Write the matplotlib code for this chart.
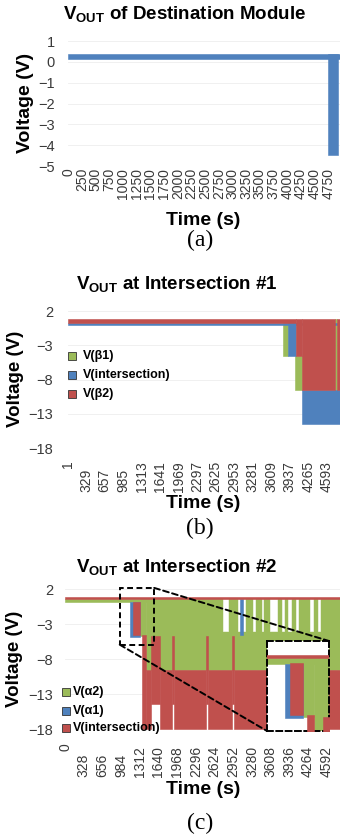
import matplotlib
matplotlib.use("Agg")
import matplotlib.pyplot as plt
from matplotlib.patches import Rectangle, ConnectionPatch

plt.rcParams["font.family"] = ["Liberation Sans", "DejaVu Sans"]
plt.rcParams["mathtext.fontset"] = "custom"
plt.rcParams["mathtext.rm"] = "Liberation Sans"
plt.rcParams["mathtext.bf"] = "Liberation Sans:bold"

GREEN = "#9BBB59"
BLUE = "#4F81BD"
RED = "#C0504D"
TICK_COLOR = "#3a3a3a"

# ---- (a) V_OUT of destination module: bands as (start, end, low, high)
dest_start = [0, 4750]
dest_end = [4964, 4933]
dest_low = [0.12, -4.48]
dest_high = [0.38, 0.38]
ticks_a = list(range(0, 5000, 250))

# ---- (b) intersection #1
beta1_start = [3813, 4031, 4740]
beta1_end = [3902, 4161, 4770]
beta1_low = [-4.6, -9.5, -9.5]
beta1_high = [0.3, -4.6, 0.8]

inter1_start = [1, 3902, 4150]
inter1_end = [4829, 4044, 4829]
inter1_low = [0.0, -4.6, -14.4]
inter1_high = [0.3, 0.3, -9.5]

beta2_start = [1, 4049, 4161, 4770]
beta2_end = [4049, 4161, 4740, 4829]
beta2_low = [0.3, -4.6, -9.5, -9.5]
beta2_high = [0.8, 0.8, 0.8, 0.8]

ticks_b = list(range(1, 4700, 328))

# ---- (c) intersection #2
alpha2_start = [0, 1316, 1421]
alpha2_end = [4825, 1421, 4825]
alpha2_low = [0.14, -4.6, -9.5]
alpha2_high = [0.65, 0.65, 0.65]
# windows where V(alpha2) only sits in its lower level
alpha2_gap_start = [2777, 3035, 3298, 3451, 3596, 3802, 3918, 4053, 4298, 4444]
alpha2_gap_end = [2854, 3158, 3333, 3479, 3714, 3842, 3960, 4093, 4356, 4474]
alpha2_gap_floor = -4.0

alpha1_start = [1140, 3070]
alpha1_end = [1316, 3128]
alpha1_low = [-4.77, -4.5]
alpha1_high = [0.14, 0.65]

inter2_start = [0, 1188, 1346, 1421, 1504, 1667, 1872, 1916, 2468, 2512, 2925, 2968]
inter2_end = [4825, 1316, 1421, 1504, 1667, 1872, 1916, 2468, 2512, 2925, 2968, 4825]
inter2_low = [0.65, -4.5, -18, -18, -14.3, -18, -14.3, -18, -14.3, -18, -14.3, -18]
inter2_high = [0.95, 0.2, -4.5, -9.5, -4.6, -9.5, -4.6, -9.5, -4.6, -9.5, -4.6, -9.5]

ticks_c = list(range(0, 4700, 328))
zoom_t = (960, 1565)
zoom_v = (-5.9, 2.2)

W, H = 340, 835


def px_rect(left, top, right, bottom):
    return [left / W, 1 - bottom / H, (right - left) / W, (bottom - top) / H]


def fx(x):
    return x / W


def fy(y):
    return 1 - y / H


def draw_bands(ax, starts, ends, lows, highs, color, zorder=2):
    for s, e, lo, hi in zip(starts, ends, lows, highs):
        ax.fill_between([s, e], [lo, lo], [hi, hi], color=color,
                        edgecolor=color, linewidth=0.4, zorder=zorder)


def style_axes(ax, yticks, ypad):
    for sp in ax.spines.values():
        sp.set_visible(False)
    ax.set_yticks(yticks)
    ax.tick_params(axis="y", length=0, pad=ypad, labelsize=10.5,
                   labelcolor=TICK_COLOR)
    ax.grid(axis="y", color="#eeeeee", linewidth=0.6)
    ax.set_axisbelow(True)


def bottom_aligned_xticks(ax, ticks, pad_px, first_gap_px, axes_h_px):
    pad_pt = pad_px * 72 / 100
    ax.tick_params(axis="x", length=0, pad=pad_pt)
    ax.set_xticks(ticks, [str(t) for t in ticks], rotation=90, va="bottom",
                  fontsize=10, color=TICK_COLOR)
    first = ax.get_xticklabels()[0]
    first.set_va("top")
    first.set_y((pad_px - first_gap_px) / axes_h_px)


def legend_items(names, colors, x_box, x_text, y_centers, size=8):
    fig = plt.gcf()
    for name, col, yc in zip(names, colors, y_centers):
        fig.add_artist(Rectangle((fx(x_box), fy(yc + size / 2)), size / W,
                                 size / H, facecolor=col, edgecolor="#333333",
                                 linewidth=0.6, transform=fig.transFigure))
        fig.text(fx(x_text), fy(yc), name, fontsize=9, fontweight="bold",
                 ha="left", va="center")


fig = plt.figure(figsize=(3.4, 8.35), dpi=100)

# ================= (a)
ax_a = fig.add_axes(px_rect(68.3, 41, 340, 166))
draw_bands(ax_a, dest_start, dest_end, dest_low, dest_high, BLUE)
ax_a.set_xlim(0, 4964)
ax_a.set_ylim(-5, 1)
style_axes(ax_a, range(-5, 2), 9.5)
ax_a.tick_params(axis="x", length=0, pad=1.5)
ax_a.set_xticks(ticks_a, [str(t) for t in ticks_a], rotation=90, va="top",
                fontsize=10, color=TICK_COLOR)
fig.text(fx(185), fy(15), r"$\mathbf{V}_{\mathbf{OUT}}$ of Destination Module",
         fontsize=13.5, fontweight="bold", ha="center", va="center")
fig.text(fx(25), fy(103), "Voltage (V)", rotation=90, fontsize=14,
         fontweight="bold", ha="center", va="center")
fig.text(fx(203), fy(220), "Time (s)", fontsize=14, fontweight="bold",
         ha="center", va="center")
fig.text(fx(200), fy(240), "(a)", fontsize=17, family="Liberation Serif",
         ha="center", va="center")

# ================= (b)
ax_b = fig.add_axes(px_rect(67.7, 311, 340, 448.3))
draw_bands(ax_b, beta1_start, beta1_end, beta1_low, beta1_high, GREEN, 2)
draw_bands(ax_b, inter1_start, inter1_end, inter1_low, inter1_high, BLUE, 3)
draw_bands(ax_b, beta2_start, beta2_end, beta2_low, beta2_high, RED, 4)
ax_b.set_xlim(1, 4829)
ax_b.set_ylim(-18, 2)
style_axes(ax_b, range(-18, 3, 5), 10.4)
bottom_aligned_xticks(ax_b, ticks_b, 43.7, 11.7, 137.3)
fig.text(fx(177), fy(285), r"$\mathbf{V}_{\mathbf{OUT}}$ at Intersection #1",
         fontsize=13.5, fontweight="bold", ha="center", va="center")
fig.text(fx(16), fy(379), "Voltage (V)", rotation=90, fontsize=13.5,
         fontweight="bold", ha="center", va="center")
fig.text(fx(203), fy(503), "Time (s)", fontsize=14, fontweight="bold",
         ha="center", va="center")
fig.text(fx(200), fy(528), "(b)", fontsize=17, family="Liberation Serif",
         ha="center", va="center")
legend_items(["V(\u03b21)", "V(intersection)", "V(\u03b22)"],
             [GREEN, BLUE, RED], 68.3, 82.7, [356, 375, 394])

# ================= (c)
ax_c = fig.add_axes(px_rect(65, 589.3, 340, 729.5))
ax_in = fig.add_axes(px_rect(267, 641, 329, 731))
for ax in (ax_c, ax_in):
    draw_bands(ax, alpha2_start, alpha2_end, alpha2_low, alpha2_high, GREEN, 2)
    draw_bands(ax, alpha2_gap_start, alpha2_gap_end,
               [alpha2_gap_floor] * len(alpha2_gap_start),
               [0.67] * len(alpha2_gap_start), "white", 2.5)
    draw_bands(ax, alpha1_start, alpha1_end, alpha1_low, alpha1_high, BLUE, 3)
    draw_bands(ax, inter2_start, inter2_end, inter2_low, inter2_high, RED, 4)

ax_c.set_xlim(0, 4825)
ax_c.set_ylim(-18, 2)
style_axes(ax_c, range(-18, 3, 5), 8.4)
bottom_aligned_xticks(ax_c, ticks_c, 47.2, 13.8, 140.2)

dash = (0, (3, 1.8))
ax_c.add_patch(Rectangle((zoom_t[0], zoom_v[0]), zoom_t[1] - zoom_t[0],
                         zoom_v[1] - zoom_v[0], fill=False, edgecolor="black",
                         linestyle=dash, linewidth=1.4, zorder=6, clip_on=False))
ax_in.set_xlim(*zoom_t)
ax_in.set_ylim(*zoom_v)
ax_in.set_xticks([])
ax_in.set_yticks([])
for sp in ax_in.spines.values():
    sp.set_linestyle(dash)
    sp.set_linewidth(1.4)
fig.add_artist(ConnectionPatch(xyA=(zoom_t[1], zoom_v[1]), coordsA=ax_c.transData,
                               xyB=(1, 1), coordsB=ax_in.transAxes,
                               linestyle=dash, linewidth=1.4, color="black"))
fig.add_artist(ConnectionPatch(xyA=(zoom_t[0], zoom_v[0]), coordsA=ax_c.transData,
                               xyB=(0, 0), coordsB=ax_in.transAxes,
                               linestyle=dash, linewidth=1.4, color="black"))

fig.text(fx(177), fy(568), r"$\mathbf{V}_{\mathbf{OUT}}$ at Intersection #2",
         fontsize=13.5, fontweight="bold", ha="center", va="center")
fig.text(fx(14.5), fy(659), "Voltage (V)", rotation=90, fontsize=13.5,
         fontweight="bold", ha="center", va="center")
fig.text(fx(203), fy(790), "Time (s)", fontsize=14, fontweight="bold",
         ha="center", va="center")
fig.text(fx(200), fy(823), "(c)", fontsize=17, family="Liberation Serif",
         ha="center", va="center")
legend_items(["V(\u03b12)", "V(\u03b11)", "V(intersection)"],
             [GREEN, BLUE, RED], 61.7, 72.7, [692.3, 711, 728.3])

fig.savefig("out.png", dpi=100)
